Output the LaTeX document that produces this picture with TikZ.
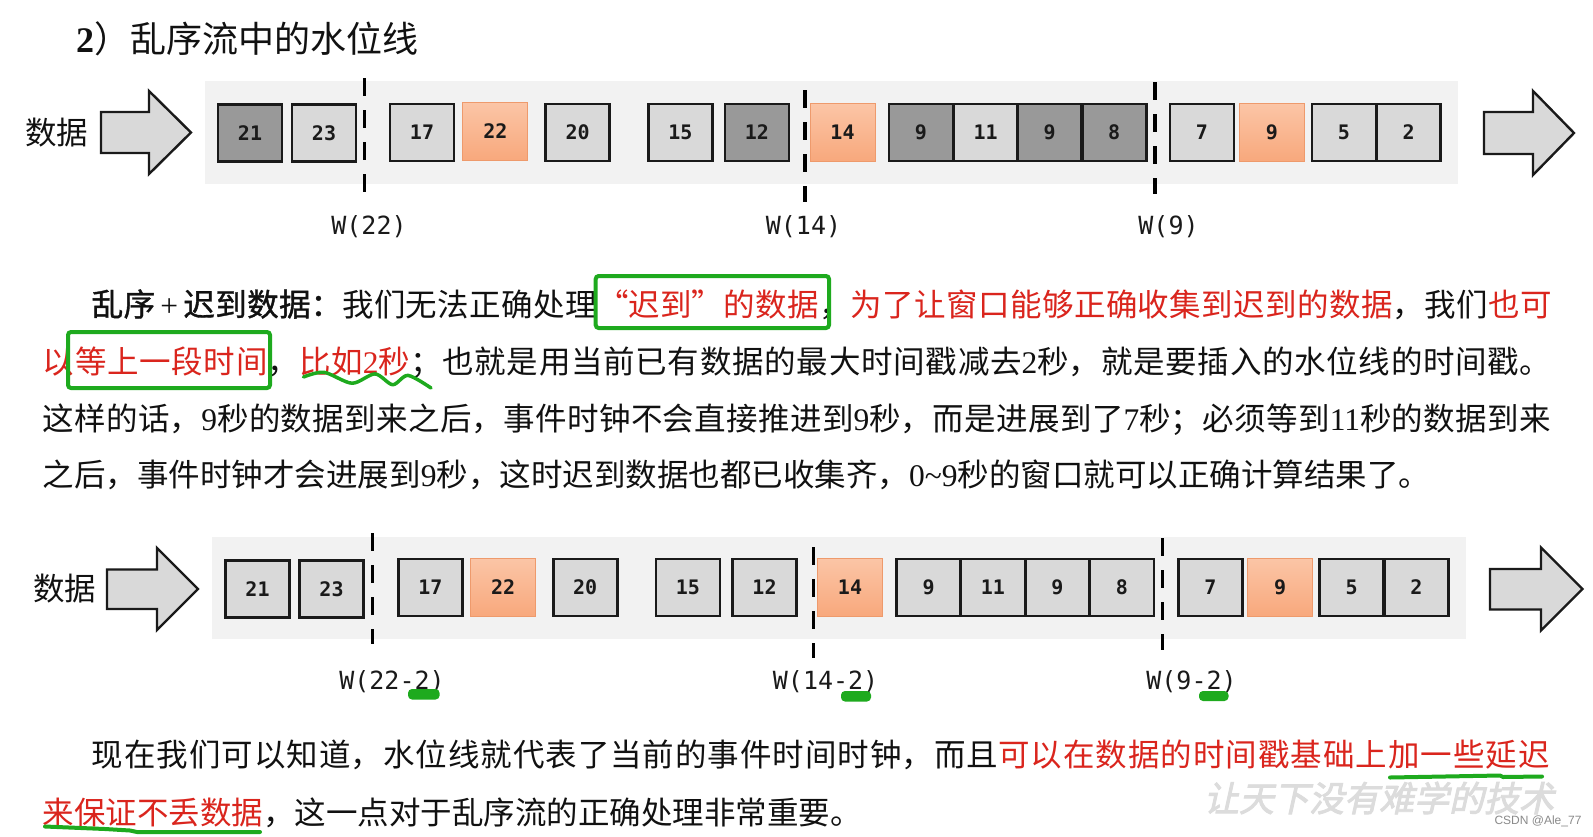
\documentclass[tikz,border=0pt]{standalone}
\usepackage{fontspec}
\setmainfont{Noto Sans CJK SC}
\newfontfamily\cjkbold[FakeBold=1.2]{Noto Sans CJK SC}
\newfontfamily\lser{Liberation Serif}
\newfontfamily\wfont{DejaVu Sans Mono}
\newfontfamily\wmfont[FakeSlant=0.22,FakeBold=2.5]{Noto Sans CJK SC}
\newfontfamily\lsans{Liberation Sans}
\XeTeXlinebreaklocale "zh"
\XeTeXlinebreakskip=0pt plus 4pt minus 1pt
\definecolor{txtblack}{HTML}{111111}
\definecolor{hlred}{HTML}{DA251D}
\definecolor{annogreen}{HTML}{1EAA1E}
\definecolor{bandgray}{HTML}{F2F2F2}
\definecolor{cellgray}{HTML}{D9D9D9}
\definecolor{celldark}{HTML}{999999}
\definecolor{orangetop}{HTML}{FBC5A6}
\definecolor{orangebot}{HTML}{F8A87C}
\definecolor{orangeline}{HTML}{EE9A6C}
\definecolor{wmgray}{HTML}{DCDCDC}
\definecolor{csdngray}{HTML}{8A8A8A}
\definecolor{linegray}{HTML}{1A1A1A}
\newcommand\rd[1]{\textcolor{hlred}{#1}}
\newcommand\jl[2]{\parbox[b]{#1}{\tolerance=10000\hbadness=10000\parindent=0pt\parfillskip=0pt\leftskip=0pt\rightskip=0pt\relax #2}}
\begin{document}
\begin{tikzpicture}[x=1pt,y=-1pt,
  cellbase/.style={inner sep=0pt, minimum width=64pt, minimum height=57pt,
    font=\wfont\bfseries\fontsize{20}{20}\selectfont, text=linegray},
  darkcell/.style={cellbase, draw=linegray, line width=2.6pt, fill=celldark},
  lightcell/.style={cellbase, draw=linegray, line width=2.6pt, fill=cellgray},
  hotcell/.style={cellbase, minimum width=65pt, minimum height=58pt, draw=orangeline, line width=1pt, top color=orangetop, bottom color=orangebot},
  band/.style={fill=bandgray, draw=none},
  blockarrow/.style={draw=linegray, line width=2.4pt, fill=cellgray, line join=miter},
  wmark/.style={line width=3.5pt, draw=black, dash pattern=on 18pt off 14pt},
  wlabel/.style={inner sep=0pt, font=\wfont\fontsize{25}{25}\selectfont, text=linegray},
  txt/.style={inner sep=0pt, font=\fontsize{31.5}{36}\selectfont, text=txtblack, anchor=base west},
  greenbox/.style={draw=annogreen, line width=4pt, rounded corners=3pt},
  greenline/.style={draw=annogreen, line width=4pt, line cap=round, line join=round},
  greenblob/.style={fill=annogreen, rounded corners=4pt},
]
\useasboundingbox (0,0) rectangle (1593,836);
\fill[white] (0,0) rectangle (1593,836);

% title
\node[txt, font=\fontsize{36}{40}\selectfont] (title) at (76,52) {{\lser\bfseries 2}）乱序流中的水位线};

% ---------- top diagram ----------
\node[txt] (dataT) at (25,144.5) {数据};
\draw[blockarrow] (101,112) -- (149,112) -- (149,91) -- (191,132.5) -- (149,174) -- (149,153) -- (101,153) -- cycle;
\fill[band] (205,80.5) rectangle (1458,183.5);

\node[darkcell]  (t21) at (250,133) {21};
\node[lightcell] (t23) at (324,133) {23};
\node[lightcell] (t17) at (422,132.5) {17};
\node[hotcell]   (t22) at (495.3,131.5) {22};
\node[lightcell] (t20) at (577.6,132.5) {20};
\node[lightcell] (t15) at (680.4,132.5) {15};
\node[darkcell]  (t12) at (756.8,132.5) {12};
\node[hotcell]   (t14) at (842.5,132.5) {14};
\node[darkcell]  (t9a) at (920.8,132.5) {9};
\node[lightcell] (t11) at (985.6,132.5) {11};
\node[darkcell]  (t9b) at (1049.7,132.5) {9};
\node[darkcell]  (t8)  at (1114.2,132.5) {8};
\node[lightcell] (t7)  at (1201.8,132.5) {7};
\node[hotcell]   (t9c) at (1271.8,132.5) {9};
\node[lightcell] (t5)  at (1344,132.5) {5};
\node[lightcell] (t2)  at (1408.6,132.5) {2};

\draw[blockarrow] (1484,112) -- (1533,112) -- (1533,91) -- (1574,133) -- (1533,175) -- (1533,154) -- (1484,154) -- cycle;

\coordinate (wa1) at (364.5,78);  \coordinate (wa2) at (364.5,192);
\coordinate (wb1) at (805,90);    \coordinate (wb2) at (805,202);
\coordinate (wc1) at (1155,82);   \coordinate (wc2) at (1155,194);
\draw[wmark] (wa1) -- (wa2);
\draw[wmark] (wb1) -- (wb2);
\draw[wmark] (wc1) -- (wc2);
\node[wlabel] (wt1) at (369,227) {W(22)};
\node[wlabel] (wt2) at (803.5,227) {W(14)};
\node[wlabel] (wt3) at (1168.5,227) {W(9)};

% ---------- top paragraph ----------
\node[txt] (p1) at (91.5,316) {\jl{1460pt}{{\cjkbold 乱序\,{\lser +}\,迟到数据：}我们无法正确处理\rd{“迟到”的数据}，\rd{为了让窗口能够正确收集到迟到的数据}，我们\rd{也可}}};
\node[txt] (p2) at (42.7,373) {\jl{1508pt}{\rd{以等上一段时间}，\rd{比如{\lser 2}秒}；也就是用当前已有数据的最大时间戳减去{\lser 2}秒，就是要插入的水位线的时间戳。}};
\node[txt] (p3) at (42.7,430) {\jl{1508pt}{这样的话，{\lser 9}秒的数据到来之后，事件时钟不会直接推进到{\lser 9}秒，而是进展到了{\lser 7}秒；必须等到{\lser 11}秒的数据到来}};
\node[txt] (p4) at (42.7,486.5) {之后，事件时钟才会进展到{\lser 9}秒，这时迟到数据也都已收集齐，{\lser 0\textasciitilde 9}秒的窗口就可以正确计算结果了。};

% green annotations (top text)
\draw[greenbox] (595.7,276) rectangle (829,328);
\draw[greenbox] (68,332) rectangle (270,388);
\draw[greenline, line width=3.5pt] plot[smooth] coordinates {(303.5,377) (324,372.3) (352,383.2) (375,373.9) (392.7,384.7) (408,375.4) (431,388)};

% ---------- bottom diagram ----------
\node[txt] (dataB) at (33,600) {数据};
\draw[blockarrow] (107,569.5) -- (157,569.5) -- (157,548) -- (198,589) -- (157,630) -- (157,609) -- (107,609) -- cycle;
\fill[band] (211.7,537) rectangle (1466,639);

\node[lightcell] (b21) at (257.5,589) {21};
\node[lightcell] (b23) at (331.5,589) {23};
\node[lightcell] (b17) at (430.4,587.5) {17};
\node[hotcell]   (b22) at (503.1,587.5) {22};
\node[lightcell] (b20) at (585.2,587.5) {20};
\node[lightcell] (b15) at (687.8,587.5) {15};
\node[lightcell] (b12) at (764.5,587.5) {12};
\node[hotcell]   (b14) at (850,587.5) {14};
\node[lightcell] (b9a) at (928.6,587.5) {9};
\node[lightcell] (b11) at (992.9,587.5) {11};
\node[lightcell] (b9b) at (1057.4,587.5) {9};
\node[lightcell] (b8)  at (1122,587.5) {8};
\node[lightcell] (b7)  at (1210.4,587.5) {7};
\node[hotcell]   (b9c) at (1280.1,587.5) {9};
\node[lightcell] (b5)  at (1351.6,587.5) {5};
\node[lightcell] (b2)  at (1416.5,587.5) {2};

\draw[blockarrow] (1490,569) -- (1541,569) -- (1541,547.5) -- (1582.5,589) -- (1541,630.5) -- (1541,609.5) -- (1490,609.5) -- cycle;

\coordinate (va1) at (372.3,533);   \coordinate (va2) at (372.3,644);
\coordinate (vb1) at (813.7,547);   \coordinate (vb2) at (813.7,658);
\coordinate (vc1) at (1162.7,538);  \coordinate (vc2) at (1162.7,650);
\draw[wmark] (va1) -- (va2);
\draw[wmark] (vb1) -- (vb2);
\draw[wmark] (vc1) -- (vc2);
\node[wlabel] (wb1l) at (392,682) {W(22-2)};
\node[wlabel] (wb2l) at (825.6,682) {W(14-2)};
\node[wlabel] (wb3l) at (1191.5,682) {W(9-2)};
\fill[greenblob] (408,689) rectangle (439.6,699.5);
\fill[greenblob] (841,691) rectangle (871,701.5);
\fill[greenblob] (1199,691) rectangle (1228.5,701);

% ---------- bottom paragraph ----------
\node[txt] (q1) at (91.5,766) {\jl{1458pt}{现在我们可以知道，水位线就代表了当前的事件时间时钟，而且\rd{可以在数据的时间戳基础上加一些延迟}}};
\node[txt] (q2) at (42.7,824) {\rd{来保证不丢数据}，这一点对于乱序流的正确处理非常重要。};

\draw[greenline] (1390,777.5) -- (1500,775.5) -- (1503,777) -- (1542,776.5);
\draw[greenline] (45,826.5) -- (105,829) -- (130,830.5) -- (137,832) -- (260,832);

% watermark
\node[inner sep=0pt, text=wmgray, font=\wmfont\fontsize{35}{35}\selectfont] (wm) at (1379,798) {让天下没有难学的技术};
\node[inner sep=0pt, text=csdngray, font=\lsans\fontsize{12}{12}\selectfont] (csdn) at (1538,821.5) {CSDN @Ale\_77};
\end{tikzpicture}
\end{document}
